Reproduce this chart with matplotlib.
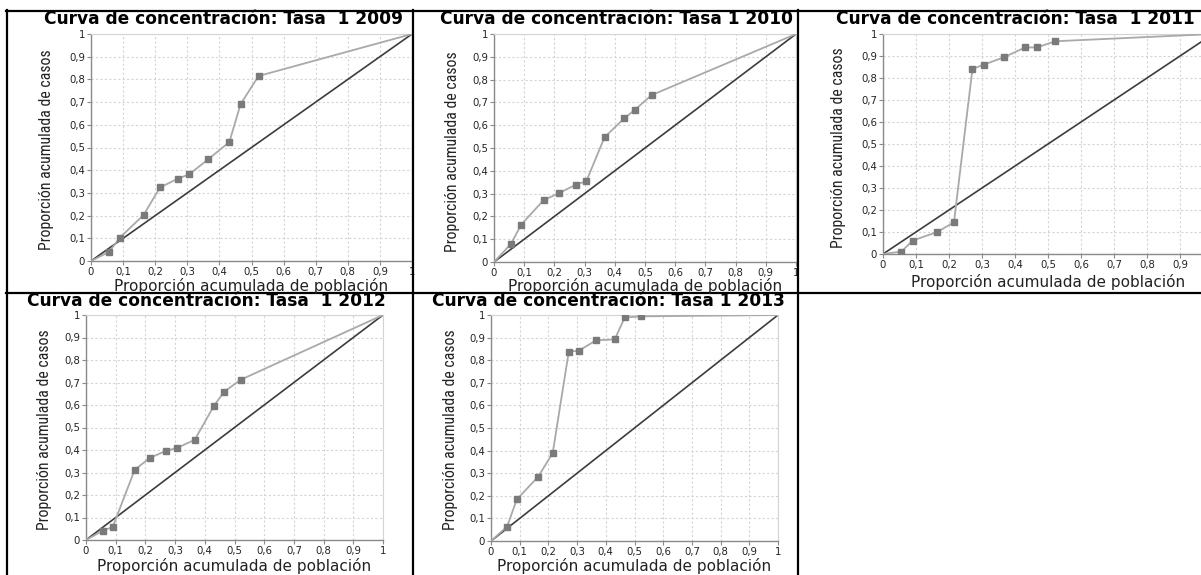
import matplotlib
matplotlib.use("Agg")
import matplotlib.pyplot as plt
from matplotlib.lines import Line2D
from matplotlib import font_manager as fm

W, H, DPI = 1201, 575, 100

# Cumulative share of population (x) shared by all years
x_pop = [0, 0.056, 0.090, 0.164, 0.215, 0.271, 0.306, 0.366, 0.431, 0.466, 0.522, 1.0]

# Cumulative share of cases per year
casos_2009 = [0, 0.040, 0.103, 0.203, 0.324, 0.363, 0.382, 0.449, 0.524, 0.691, 0.815, 1.0]
casos_2010 = [0, 0.079, 0.164, 0.271, 0.302, 0.339, 0.355, 0.547, 0.630, 0.667, 0.732, 1.0]
casos_2011 = [0, 0.011, 0.061, 0.100, 0.144, 0.841, 0.861, 0.894, 0.939, 0.939, 0.967, 1.0]
casos_2012 = [0, 0.041, 0.058, 0.312, 0.365, 0.397, 0.409, 0.445, 0.597, 0.660, 0.713, 1.0]
casos_2013 = [0, 0.064, 0.184, 0.284, 0.389, 0.838, 0.842, 0.888, 0.892, 0.989, 0.994, 1.0]

titles = [
    "Curva de concentración: Tasa  1 2009",
    "Curva de concentración: Tasa 1 2010",
    "Curva de concentración: Tasa  1 2011",
    "Curva de concentración: Tasa  1 2012",
    "Curva de concentración: Tasa 1 2013",
]
series = [casos_2009, casos_2010, casos_2011, casos_2012, casos_2013]

tick_values = [0, 0.1, 0.2, 0.3, 0.4, 0.5, 0.6, 0.7, 0.8, 0.9, 1.0]
tick_labels = ["0", "0,1", "0,2", "0,3", "0,4", "0,5", "0,6", "0,7", "0,8", "0,9", "1"]

x_label = "Proporción acumulada de población"
y_label = "Proporción acumulada de casos"

# Panel geometry in pixels: plot box (left, top, right, bottom)
plot_boxes = [
    (91, 34, 412, 261),
    (494, 34, 796, 262),
    (883, 34, 1213, 254),
    (86, 315, 383, 540),
    (491, 315, 778, 541),
]
title_pos = [(223, 19), (616, 19), (1015, 19), (206, 301), (608, 301)]
ylabel_pos = [(47, 150), (452, 152), (838, 148), (45, 430), (450, 430)]
xlabel_y = [286, 286, 282, 566, 566]

available = {f.name for f in fm.fontManager.ttflist}
narrow = next((f for f in ["Liberation Sans Narrow", "DejaVu Sans Condensed",
                           "Roboto Condensed", "Open Sans Condensed"]
               if f in available), "DejaVu Sans")

fig = plt.figure(figsize=(W / DPI, H / DPI), dpi=DPI)
fig.patch.set_facecolor("white")
renderer = fig.canvas.get_renderer()


def fx(px):
    return px / W


def fy(py):
    return 1 - py / H


def fit_size(text, target_px, base=10, **kw):
    t = fig.text(0, 0, text, fontsize=base, **kw)
    w = t.get_window_extent(renderer=renderer).width
    t.remove()
    return base * target_px / w


title_size = fit_size(titles[0], 360, family="DejaVu Sans", weight="bold")
ylab_size = fit_size(y_label, 200, family=narrow)
xlab_size = fit_size(x_label, 274, family="DejaVu Sans")

for (l, t, r, b), ys, title, (tx, ty), (yx, yy), xy in zip(
        plot_boxes, series, titles, title_pos, ylabel_pos, xlabel_y):
    ax = fig.add_axes([fx(l), fy(b), fx(r - l), (b - t) / H])
    ax.set_xlim(0, 1)
    ax.set_ylim(0, 1)
    ax.grid(True, color="#d4d4d4", lw=0.8, ls=(0, (2, 2)), zorder=0)
    ax.plot([0, 1], [0, 1], color="#3c3c3c", lw=1.2, zorder=2)
    ax.plot(x_pop, ys, color="#a9a9a9", lw=1.3, zorder=3)
    ax.plot(x_pop[1:-1], ys[1:-1], ls="none", marker="s", ms=4.5,
            mfc="#7a7a7a", mec="#7a7a7a", zorder=4)
    ax.set_xticks(tick_values)
    ax.set_yticks(tick_values)
    # the right end of the last panel lies beyond the figure edge
    xl = tick_labels if r <= W else tick_labels[:-1] + [""]
    ax.set_xticklabels(xl)
    ax.set_yticklabels(tick_labels)
    ax.tick_params(length=2.8, width=0.8, color="#8a8a8a", labelsize=7.3,
                   labelcolor="#222222", pad=1.5)
    for side in ("left", "bottom"):
        ax.spines[side].set_color("#8a8a8a")
        ax.spines[side].set_linewidth(1.0)
    for side in ("top", "right"):
        ax.spines[side].set_color("#d4d4d4")
        ax.spines[side].set_linewidth(0.8)

    fig.text(fx(tx), fy(ty), title, ha="center", va="center",
             fontsize=title_size, weight="bold", family="DejaVu Sans")
    fig.text(fx(yx), fy(yy), y_label, ha="center", va="center", rotation=90,
             fontsize=ylab_size, family=narrow, color="#222222")
    fig.text(fx((l + r) / 2), fy(xy), x_label, ha="center", va="center",
             fontsize=xlab_size, family="DejaVu Sans", color="#222222")

# Table-style cell borders
border = dict(color="black", lw=1.6, transform=fig.transFigure, clip_on=False)
for y in (10.5, 293):
    fig.add_artist(Line2D([fx(6), fx(W)], [fy(y), fy(y)], **border))
for x in (7, 413, 798):
    fig.add_artist(Line2D([fx(x), fx(x)], [fy(10), fy(H)], **border))

fig.savefig("out.png", dpi=DPI, facecolor="white")
